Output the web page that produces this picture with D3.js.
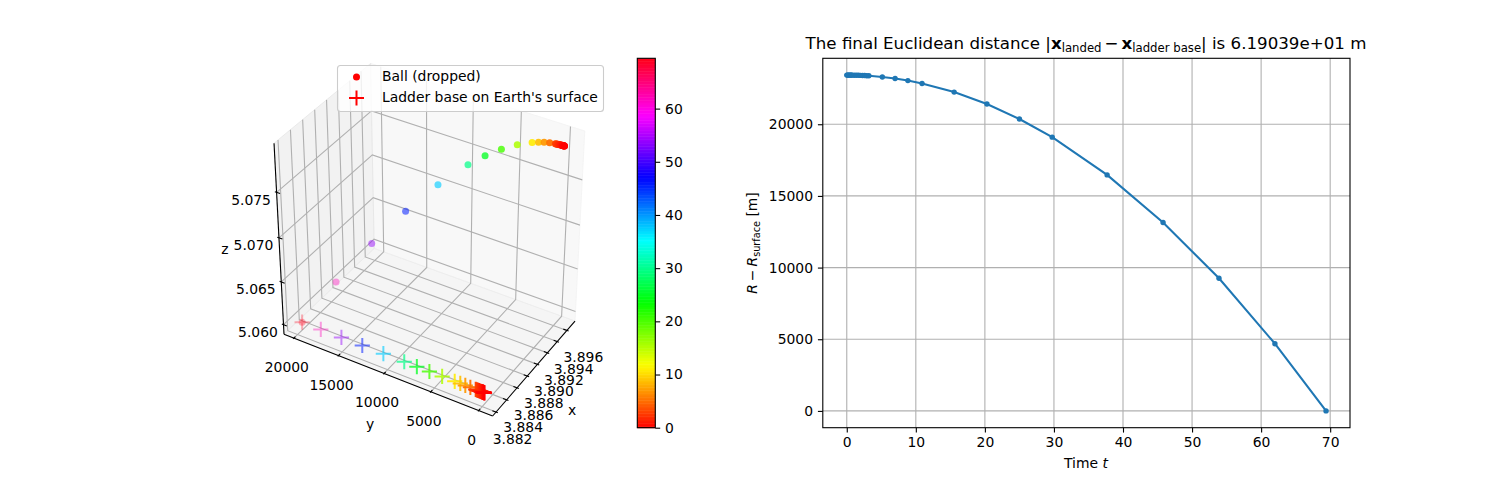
<!DOCTYPE html>
<html>
<head>
<meta charset="utf-8">
<script src="https://cdn.jsdelivr.net/npm/d3@7"></script>
<style>
  html, body { margin: 0; padding: 0; background: #fff; }
  svg { display: block; }
  text { font-family: "DejaVu Sans", sans-serif; fill: #000; }
</style>
</head>
<body>
<div id="chart"></div>
<script>
// time of each sample [s]
const times = [0, 0.1, 0.2, 0.3, 0.4, 0.5, 0.6, 0.7, 0.8, 1.1, 1.4, 1.7, 2.0, 2.3, 2.6, 2.9, 3.2,
  5.15, 7.0, 8.85, 10.9, 15.55, 20.3, 25, 29.75, 37.7, 45.8, 53.9, 62, 69.4];
// height above surface [m]
const heights = [23430, 23430, 23430, 23429, 23429, 23429, 23428, 23428, 23427, 23424, 23420, 23416, 23410, 23404, 23397, 23389, 23380,
  23300, 23190, 23046, 22848, 22245, 21410, 20365, 19100, 16465, 13150, 9255, 4690, 0];
// ball position (x and z are in 1e6 m, y in m)
const ballX = [3.89667, 3.89667, 3.89667, 3.89667, 3.89667, 3.89667, 3.89667, 3.89667, 3.89667, 3.89667, 3.89666, 3.89666, 3.89666, 3.89665, 3.89665, 3.89664, 3.89664,
  3.89659, 3.89652, 3.89644, 3.89631, 3.89595, 3.89544, 3.8948, 3.89403, 3.89243, 3.89041, 3.88804, 3.88526, 3.8824];
const ballY = [0, 28, 57, 85, 113, 142, 170, 199, 227, 312, 397, 482, 567, 652, 738, 823, 908,
  1461, 1986, 2510, 3092, 4411, 5758, 7092, 8439, 10694, 12992, 15290, 17587, 19686];
const ballZ = [5.07871, 5.07871, 5.07871, 5.07871, 5.07871, 5.07871, 5.07871, 5.07871, 5.07871, 5.07871, 5.0787, 5.0787, 5.07869, 5.07869, 5.07868, 5.07868, 5.07867,
  5.07861, 5.07852, 5.07841, 5.07825, 5.07777, 5.07711, 5.07629, 5.07529, 5.07321, 5.07059, 5.06751, 5.06391, 5.0602];
// the ladder base stays on the surface, only y moves
const ladderX = 3.8824;
const ladderZ = 5.0602;

const xLim3d = [3.88169, 3.89738];
const yLim3d = [-984, 20670];
const zLim3d = [5.0593, 5.0798];
const xTicks3d = [3.882, 3.884, 3.886, 3.888, 3.89, 3.892, 3.894, 3.896];
const yTicks3d = [0, 5000, 10000, 15000, 20000];
const zTicks3d = [5.06, 5.065, 5.07, 5.075];

const cbarTicks = [0, 10, 20, 30, 40, 50, 60];
const timeTicks = [0, 10, 20, 30, 40, 50, 60, 70];
const heightTicks = [0, 5000, 10000, 15000, 20000];

// matplotlib hsv colormap
const hsvStops = [0, 0.15873, 0.174603, 0.333333, 0.349206, 0.507937, 0.666667, 0.68254, 0.84127, 0.857143, 1];
const hsvR = [1, 1, 0.96875, 0.03125, 0, 0, 0, 0.03125, 0.96875, 1, 1];
const hsvG = [0, 0.9375, 1, 1, 1, 1, 0.0625, 0, 0, 0, 0];
const hsvB = [0, 0, 0, 0, 0.0625, 1, 1, 1, 1, 0.9375, 0.09375];

const svgW = 1500, svgH = 480;
const svg = d3.select("#chart").append("svg").attr("width", svgW).attr("height", svgH);

const tMax = 69.46;
const rScale = d3.scaleLinear().domain(hsvStops).range(hsvR);
const gScale = d3.scaleLinear().domain(hsvStops).range(hsvG);
const bScale = d3.scaleLinear().domain(hsvStops).range(hsvB);
function tColor(t) {
  const f = t / tMax;
  return d3.rgb(rScale(f) * 255, gScale(f) * 255, bScale(f) * 255).formatRgb();
}

// ---- 3d projection, same maths as mplot3d ----
const elev = 35 * Math.PI / 180, azim = -149 * Math.PI / 180, dist = 10;
const spans = [xLim3d, yLim3d, zLim3d].map((l) => l[1] - l[0]);
// box is roughly to scale: x and z are in 1e6 m
const metres = [spans[0] * 1e6, spans[1] * 1.03, spans[2] * 1e6];
const spanNorm = Math.hypot(metres[0], metres[1], metres[2]);
const boxAspect = metres.map((v) => v * 1.8295 / spanNorm);

const nVec = [Math.cos(elev) * Math.cos(azim), Math.cos(elev) * Math.sin(azim), Math.sin(elev)];
const uVec = [-Math.sin(azim), Math.cos(azim), 0];
const vVec = [-Math.sin(elev) * Math.cos(azim), -Math.sin(elev) * Math.sin(azim), Math.cos(elev)];
const dot = (a, b) => a[0] * b[0] + a[1] * b[1] + a[2] * b[2];

function project(x, y, z) {
  const p = [
    ((x - xLim3d[0]) / spans[0] - 0.5) * boxAspect[0],
    ((y - yLim3d[0]) / spans[1] - 0.5) * boxAspect[1],
    ((z - zLim3d[0]) / spans[2] - 0.5) * boxAspect[2],
  ];
  const d = dist - dot(nVec, p);
  return { sx: dot(uVec, p) / d, sy: dot(vVec, p) / d, depth: d };
}

// panes reach a little past the limits
const xBox = [xLim3d[0] - spans[0] / 48, xLim3d[1] + spans[0] / 48];
const yBox = [yLim3d[0] - spans[1] / 48, yLim3d[1] + spans[1] / 48];
const zBox = [zLim3d[0] - spans[2] / 48, zLim3d[1] + spans[2] / 48];

// screen scales, pinned to the box corners
const pxScale = d3.scaleLinear()
  .domain([project(xBox[0], yBox[1], zBox[0]).sx, project(xBox[1], yBox[0], zBox[0]).sx])
  .range([284, 575]);
const pyScale = d3.scaleLinear()
  .domain([project(xBox[0], yBox[0], zBox[0]).sy, project(xBox[1], yBox[0], zBox[1]).sy])
  .range([416, 131]);
function toPx(x, y, z) {
  const p = project(x, y, z);
  return [pxScale(p.sx), pyScale(p.sy)];
}
const pathOf = (pts) => d3.line()(pts.map((p) => toPx(p[0], p[1], p[2])));

const g3d = svg.append("g").attr("class", "axes3d");

// panes
g3d.append("path")
  .attr("d", pathOf([[xBox[1], yBox[0], zBox[0]], [xBox[1], yBox[1], zBox[0]], [xBox[1], yBox[1], zBox[1]], [xBox[1], yBox[0], zBox[1]]]) + "Z")
  .attr("fill", "rgb(242,242,242)").attr("fill-opacity", 0.5).attr("stroke", "rgb(242,242,242)").attr("stroke-width", 0.8);
g3d.append("path")
  .attr("d", pathOf([[xBox[0], yBox[1], zBox[0]], [xBox[1], yBox[1], zBox[0]], [xBox[1], yBox[1], zBox[1]], [xBox[0], yBox[1], zBox[1]]]) + "Z")
  .attr("fill", "rgb(230,230,230)").attr("fill-opacity", 0.5).attr("stroke", "rgb(230,230,230)").attr("stroke-width", 0.8);
g3d.append("path")
  .attr("d", pathOf([[xBox[0], yBox[0], zBox[0]], [xBox[1], yBox[0], zBox[0]], [xBox[1], yBox[1], zBox[0]], [xBox[0], yBox[1], zBox[0]]]) + "Z")
  .attr("fill", "rgb(236,236,236)").attr("fill-opacity", 0.5).attr("stroke", "rgb(236,236,236)").attr("stroke-width", 0.8);

// grid
const gridStyle = (sel) => sel.attr("fill", "none").attr("stroke", "#b0b0b0").attr("stroke-width", 1.1);
xTicks3d.forEach((t) => {
  g3d.append("path").call(gridStyle)
    .attr("d", pathOf([[t, yBox[0], zBox[0]], [t, yBox[1], zBox[0]], [t, yBox[1], zBox[1]]]));
});
yTicks3d.forEach((t) => {
  g3d.append("path").call(gridStyle)
    .attr("d", pathOf([[xBox[0], t, zBox[0]], [xBox[1], t, zBox[0]], [xBox[1], t, zBox[1]]]));
});
zTicks3d.forEach((t) => {
  g3d.append("path").call(gridStyle)
    .attr("d", pathOf([[xBox[0], yBox[1], t], [xBox[1], yBox[1], t], [xBox[1], yBox[0], t]]));
});

// axis lines
const axisStyle = (sel) => sel.attr("fill", "none").attr("stroke", "#000").attr("stroke-width", 1.1);
g3d.append("path").call(axisStyle).attr("d", pathOf([[xBox[0], yBox[0], zBox[0]], [xBox[1], yBox[0], zBox[0]]]));
g3d.append("path").call(axisStyle).attr("d", pathOf([[xBox[0], yBox[0], zBox[0]], [xBox[0], yBox[1], zBox[0]]]));
g3d.append("path").call(axisStyle).attr("d", pathOf([[xBox[0], yBox[1], zBox[0]], [xBox[0], yBox[1], zBox[1]]]));

// ticks + labels
const dBox = [(xBox[1] - xBox[0]) / 12, (yBox[1] - yBox[0]) / 12];
function tickLabel(pos, dx, dy, str) {
  g3d.append("text").attr("x", pos[0] + dx).attr("y", pos[1] + dy)
    .attr("text-anchor", "middle").attr("dominant-baseline", "central")
    .style("font-size", "13.9px").text(str);
}
xTicks3d.forEach((t) => {
  g3d.append("path").call(axisStyle)
    .attr("d", pathOf([[t, yBox[0] - 0.1 * dBox[1], zBox[0]], [t, yBox[0] + 0.2 * dBox[1], zBox[0]]]));
  tickLabel(toPx(t, yBox[0], zBox[0]), 16.5, 27, d3.format(".3f")(t));
});
yTicks3d.forEach((t) => {
  g3d.append("path").call(axisStyle)
    .attr("d", pathOf([[xBox[0] - 0.1 * dBox[0], t, zBox[0]], [xBox[0] + 0.2 * dBox[0], t, zBox[0]]]));
  tickLabel(toPx(xBox[0], t, zBox[0]), -7, 29, String(t));
});
zTicks3d.forEach((t) => {
  g3d.append("path").call(axisStyle)
    .attr("d", pathOf([[xBox[0], yBox[1] + 0.1 * dBox[1], t], [xBox[0], yBox[1] - 0.2 * dBox[1], t]]));
  tickLabel(toPx(xBox[0], yBox[1], t), -25.5, 7.5, d3.format(".3f")(t));
});
function axisName(xp, yp, str) {
  g3d.append("text").attr("x", xp).attr("y", yp)
    .attr("text-anchor", "middle").attr("dominant-baseline", "central")
    .style("font-size", "13.9px").text(str);
}
axisName(572, 410, "x");
axisName(370, 424, "y");
axisName(225, 249, "z");

// depth shading like scatter3D
function depthAlpha(pts) {
  const a = d3.scaleLinear().domain(d3.extent(pts, (d) => d.depth)).range([1, 0.3]);
  pts.forEach((d) => { d.alpha = a(d.depth); });
  return pts.sort((p, q) => q.depth - p.depth);
}

const ballPts = depthAlpha(times.map((t, i) => {
  const p = project(ballX[i], ballY[i], ballZ[i]);
  return { t, depth: p.depth, pos: toPx(ballX[i], ballY[i], ballZ[i]) };
}));
g3d.append("g").selectAll("circle").data(ballPts).join("circle")
  .attr("cx", (d) => d.pos[0]).attr("cy", (d) => d.pos[1]).attr("r", 3.5)
  .attr("fill", (d) => tColor(d.t)).attr("fill-opacity", (d) => d.alpha);

const basePts = depthAlpha(times.map((t, i) => {
  const p = project(ladderX, ballY[i], ladderZ);
  return { t, depth: p.depth, pos: toPx(ladderX, ballY[i], ladderZ) };
}));
g3d.append("g").selectAll("path").data(basePts).join("path")
  .attr("d", (d) => `M${d.pos[0] - 7.6},${d.pos[1]}H${d.pos[0] + 7.6}M${d.pos[0]},${d.pos[1] - 7.6}V${d.pos[1] + 7.6}`)
  .attr("fill", "none").attr("stroke", (d) => tColor(d.t)).attr("stroke-opacity", (d) => d.alpha).attr("stroke-width", 2);

// legend
const legend = svg.append("g").attr("class", "legend");
legend.append("rect").attr("x", 337.5).attr("y", 65.5).attr("width", 266).attr("height", 46).attr("rx", 3)
  .attr("fill", "#fff").attr("fill-opacity", 0.8).attr("stroke", "#ccc").attr("stroke-width", 1.1);
legend.append("circle").attr("cx", 356.5).attr("cy", 77).attr("r", 3.5).attr("fill", "#f00");
legend.append("path").attr("d", "M349,98H364M356.5,90.5V105.5").attr("stroke", "#f00").attr("stroke-width", 2).attr("fill", "none");
legend.append("text").attr("x", 382).attr("y", 81).style("font-size", "13.9px").text("Ball (dropped)");
legend.append("text").attr("x", 382).attr("y", 102).style("font-size", "13.9px").text("Ladder base on Earth's surface");

// ---- colorbar ----
const cbarY = d3.scaleLinear().domain([0, tMax]).range([427.7, 58.3]);
const cbar = svg.append("g").attr("class", "colorbar");
cbar.selectAll("rect").data(d3.range(0, 256)).join("rect")
  .attr("x", 637.3).attr("width", 18)
  .attr("y", (d) => cbarY((d + 1) / 256 * tMax))
  .attr("height", (d) => cbarY(d / 256 * tMax) - cbarY((d + 1) / 256 * tMax) + 0.5)
  .attr("fill", (d) => tColor((d + 0.5) / 256 * tMax));
cbar.append("rect").attr("x", 637.3).attr("y", 58.3).attr("width", 18).attr("height", 369.4)
  .attr("fill", "none").attr("stroke", "#000").attr("stroke-width", 1.1);
const cbarAxis = cbar.append("g").attr("transform", "translate(655.3,0)")
  .call(d3.axisRight(cbarY).tickValues(cbarTicks).tickSize(4.9).tickPadding(4.9));
cbarAxis.select(".domain").remove();
cbarAxis.selectAll("line").attr("stroke", "#000").attr("stroke-width", 1.1);
cbarAxis.selectAll("text").style("font-size", "13.9px").style("font-family", '"DejaVu Sans", sans-serif');

// ---- right chart ----
const plotL = 822.8, plotR = 1350, plotT = 58.3, plotB = 427.7;
const xScale = d3.scaleLinear().domain([-3.47, 72.87]).range([plotL, plotR]);
const yScale = d3.scaleLinear().domain([-1171.5, 24601.5]).range([plotB, plotT]);
const plot = svg.append("g").attr("class", "plot");

plot.selectAll(".gx").data(timeTicks).join("line").attr("class", "gx")
  .attr("x1", (d) => xScale(d)).attr("x2", (d) => xScale(d)).attr("y1", plotT).attr("y2", plotB)
  .attr("stroke", "#b0b0b0").attr("stroke-width", 1.1);
plot.selectAll(".gy").data(heightTicks).join("line").attr("class", "gy")
  .attr("y1", (d) => yScale(d)).attr("y2", (d) => yScale(d)).attr("x1", plotL).attr("x2", plotR)
  .attr("stroke", "#b0b0b0").attr("stroke-width", 1.1);

const curve = d3.line().x((d, i) => xScale(times[i])).y((d) => yScale(d));
plot.append("path").attr("d", curve(heights)).attr("fill", "none").attr("stroke", "#1f77b4").attr("stroke-width", 2.08);
plot.selectAll("circle").data(heights).join("circle")
  .attr("cx", (d, i) => xScale(times[i])).attr("cy", (d) => yScale(d)).attr("r", 2.7).attr("fill", "#1f77b4");

const xAxisG = plot.append("g").attr("transform", `translate(0,${plotB})`)
  .call(d3.axisBottom(xScale).tickValues(timeTicks).tickSize(4.9).tickPadding(4.9));
const yAxisG = plot.append("g").attr("transform", `translate(${plotL},0)`)
  .call(d3.axisLeft(yScale).tickValues(heightTicks).tickSize(4.9).tickPadding(4.9).tickFormat(d3.format("d")));
[xAxisG, yAxisG].forEach((a) => {
  a.select(".domain").remove();
  a.selectAll("line").attr("stroke", "#000").attr("stroke-width", 1.1);
  a.selectAll("text").style("font-size", "13.9px").style("font-family", '"DejaVu Sans", sans-serif');
});
plot.append("rect").attr("x", plotL).attr("y", plotT).attr("width", plotR - plotL).attr("height", plotB - plotT)
  .attr("fill", "none").attr("stroke", "#000").attr("stroke-width", 1.1);

// title, with math bits as tspans
const chartTitle = plot.append("text").attr("x", 1086).attr("y", 49).attr("text-anchor", "middle").style("font-size", "16.67px");
chartTitle.append("tspan").text("The final Euclidean distance |");
chartTitle.append("tspan").style("font-weight", "bold").text("x");
chartTitle.append("tspan").attr("dy", 2.5).style("font-size", "11.7px").text("landed");
chartTitle.append("tspan").attr("dy", -2.5).attr("dx", 3).text("\u2212");
chartTitle.append("tspan").attr("dx", 3).style("font-weight", "bold").text("x");
chartTitle.append("tspan").attr("dy", 2.5).style("font-size", "11.7px").text("ladder base");
chartTitle.append("tspan").attr("dy", -2.5).text("| is 6.19039e+01 m");

const xLab = plot.append("text").attr("x", 1086).attr("y", 468).attr("text-anchor", "middle").style("font-size", "13.9px");
xLab.append("tspan").text("Time ");
xLab.append("tspan").style("font-style", "italic").text("t");

const yLab = plot.append("text").attr("transform", "translate(757,243) rotate(-90)").attr("text-anchor", "middle").style("font-size", "13.9px");
yLab.append("tspan").style("font-style", "italic").text("R");
yLab.append("tspan").attr("dx", 3).text("\u2212");
yLab.append("tspan").attr("dx", 3).style("font-style", "italic").text("R");
yLab.append("tspan").attr("dy", 2.5).style("font-size", "9.7px").text("surface");
yLab.append("tspan").attr("dy", -2.5).text(" [m]");
</script>
</body>
</html>
